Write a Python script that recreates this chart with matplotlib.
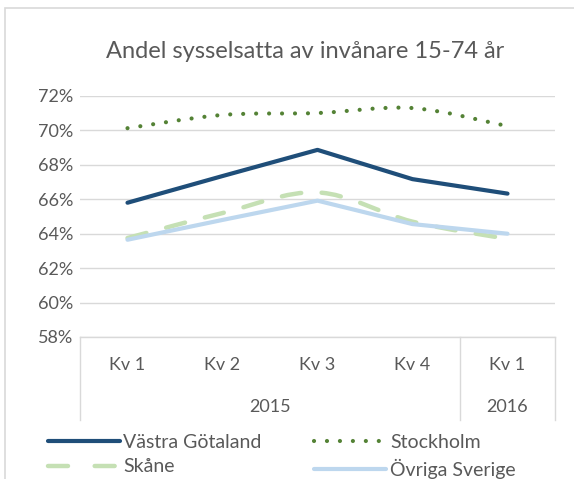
import matplotlib
matplotlib.use('Agg')
import matplotlib.pyplot as plt
from matplotlib.path import Path
from matplotlib.patches import PathPatch, Rectangle
from matplotlib.lines import Line2D
import matplotlib.transforms as mtransforms

# Data (percent)
quarters = ['Kv 1', 'Kv 2', 'Kv 3', 'Kv 4', 'Kv 1']
years = ['2015', '2016']
year_first = [0, 4]
year_last = [3, 4]
vastra = [65.8, 67.35, 68.87, 67.17, 66.33]
stockholm = [70.13, 70.9, 71.01, 71.3, 70.25]
skane = [63.75, 65.2, 66.4, 64.7, 63.7]
ovriga = [63.65, 64.8, 65.92, 64.56, 64.0]
yticks = [58, 60, 62, 64, 66, 68, 70, 72]

plt.rcParams['font.family'] = ['Lato', 'DejaVu Sans']
grey = '#595959'
gridc = '#d9d9d9'


def smooth_path(ys):
    # Excel style smoothed line: cubic bezier segments through the points
    xs = list(range(len(ys)))
    pts = list(zip(xs, ys))
    verts = [pts[0]]
    codes = [Path.MOVETO]
    n = len(pts)
    for i in range(n - 1):
        p0 = pts[max(i - 1, 0)]
        p1 = pts[i]
        p2 = pts[i + 1]
        p3 = pts[min(i + 2, n - 1)]
        c1 = (p1[0] + (p2[0] - p0[0]) / 6, p1[1] + (p2[1] - p0[1]) / 6)
        c2 = (p2[0] - (p3[0] - p1[0]) / 6, p2[1] - (p3[1] - p1[1]) / 6)
        verts += [c1, c2, p2]
        codes += [Path.CURVE4] * 3
    return Path(verts, codes)


W, H = 574, 479
fig = plt.figure(figsize=(W / 100, H / 100), dpi=100)
ax = fig.add_axes([80 / W, 1 - 337 / H, 475 / W, 241 / H])

# chart border (cropped at right/bottom)
fig.patches.append(Rectangle((5 / W, -0.1), 1.2, 1 - 8 / H + 0.1, transform=fig.transFigure,
                             fill=False, edgecolor=gridc, lw=1.2))

x = range(len(quarters))
stock_style = dict(color='#548235', lw=3, linestyle=(0, (0.01, 3.1)), capstyle='round')
skane_style = dict(color='#c5e0b4', lw=3.2, linestyle=(0, (4.4, 4.6)), capstyle='round')

ax.plot(x, vastra, color='#1f4e79', lw=3, solid_capstyle='round', solid_joinstyle='round', zorder=3)
ax.add_patch(PathPatch(smooth_path(stockholm), fill=False, zorder=3, **stock_style))
ax.add_patch(PathPatch(smooth_path(skane), fill=False, zorder=3, **skane_style))
ax.plot(x, ovriga, color='#bdd7ee', lw=3, solid_capstyle='round', solid_joinstyle='round', zorder=3)

fs = 13
ax.set_xlim(-0.5, len(quarters) - 0.5)
ax.set_ylim(58, 72)
ax.set_yticks(yticks)
ax.set_yticklabels([f'{v}%' for v in yticks], color=grey, fontsize=fs)
ax.tick_params(axis='y', length=0, pad=5)
ax.set_xticks([])
ax.grid(axis='y', color=gridc, lw=1)
for s in ['top', 'right', 'left']:
    ax.spines[s].set_visible(False)
ax.spines['bottom'].set_color(gridc)
ax.spines['bottom'].set_linewidth(1)

# multi-level category axis
trans = mtransforms.blended_transform_factory(ax.transData, ax.transAxes)
for i, q in enumerate(quarters):
    ax.text(i, -28 / 241, q, transform=trans, ha='center', va='center', color=grey, fontsize=fs)
for yr, a, b in zip(years, year_first, year_last):
    ax.text((a + b) / 2, -70 / 241, yr, transform=trans, ha='center', va='center', color=grey, fontsize=fs)
seps = [-0.5] + [b + 0.5 for b in year_last]
for sx in seps:
    ax.add_line(Line2D([sx, sx], [0, -83 / 241], transform=trans, color=gridc, lw=1, clip_on=False))

fig.text(305 / W, 1 - 52 / H, 'Andel sysselsatta av invånare 15-74 år', ha='center', va='center',
         color=grey, fontsize=17)

handles = [
    Line2D([], [], color='#1f4e79', lw=3, solid_capstyle='round'),
    Line2D([], [], color='#c5e0b4', lw=3.2, linestyle=(0, (4.5, 6)), dash_capstyle='round'),
    Line2D([], [], **{k: v for k, v in stock_style.items() if k != 'capstyle'}, dash_capstyle='round'),
    Line2D([], [], color='#bdd7ee', lw=3, solid_capstyle='round'),
]
labels = ['Västra Götaland', 'Skåne', 'Stockholm', 'Övriga Sverige']
fig.legend(handles, labels, ncol=2, loc='upper left', bbox_to_anchor=(34 / W, 1 - 420 / H),
           frameon=False, fontsize=14, handlelength=3.7, handletextpad=0.2, columnspacing=2.7,
           labelspacing=0.4, labelcolor=grey, borderpad=0.2)

fig.savefig('out.png', dpi=100)
